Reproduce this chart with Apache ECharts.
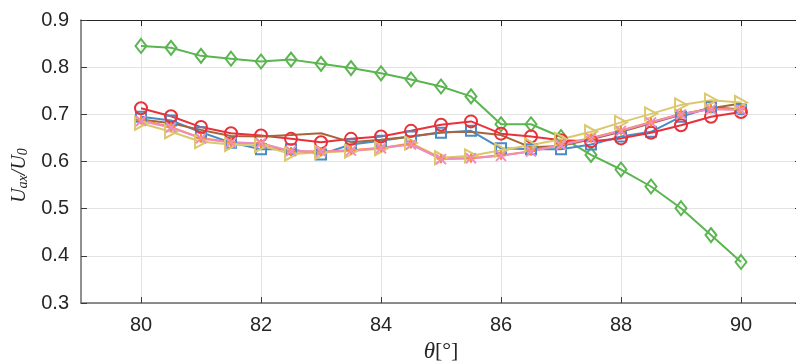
<!DOCTYPE html>
<html>
<head>
<meta charset="utf-8">
<script src="https://cdn.jsdelivr.net/npm/echarts@6/dist/echarts.min.js"></script>
<style>html,body{margin:0;padding:0;background:#fff}#c{width:796px;height:364px}</style>
</head>
<body>
<div id="c"></div>
<script>
const theta = [80,80.5,81,81.5,82,82.5,83,83.5,84,84.5,85,85.5,86,86.5,87,87.5,88,88.5,89,89.5,90];
const greenDiamond = [0.845,0.841,0.824,0.818,0.812,0.816,0.807,0.798,0.787,0.774,0.759,0.738,0.679,0.679,0.652,0.614,0.583,0.547,0.501,0.444,0.387];
const blueSquare = [0.695,0.687,0.662,0.640,0.626,0.626,0.615,0.636,0.644,0.653,0.661,0.665,0.628,0.626,0.626,0.636,0.653,0.663,0.695,0.715,0.711];
const redCircle = [0.713,0.696,0.673,0.660,0.655,0.648,0.641,0.648,0.653,0.665,0.678,0.685,0.659,0.653,0.645,0.643,0.649,0.661,0.677,0.695,0.705];
const brownLine = [0.689,0.681,0.667,0.654,0.653,0.656,0.660,0.641,0.646,0.653,0.662,0.663,0.656,0.630,0.633,0.647,0.663,0.681,0.699,0.713,0.723];
const yellowTriangle = [0.681,0.663,0.642,0.636,0.634,0.616,0.619,0.622,0.627,0.639,0.608,0.612,0.624,0.635,0.647,0.663,0.683,0.701,0.720,0.730,0.725];
const orangePlus = [0.688,0.673,0.650,0.641,0.638,0.621,0.621,0.624,0.629,0.637,0.606,0.607,0.613,0.622,0.636,0.650,0.666,0.684,0.701,0.712,0.710];
const pinkCross = [0.686,0.672,0.649,0.640,0.639,0.622,0.621,0.623,0.628,0.636,0.605,0.607,0.612,0.621,0.635,0.649,0.665,0.683,0.700,0.711,0.709];
const xTicks = [80,82,84,86,88,90];
const yTicks = [0.3,0.4,0.5,0.6,0.7,0.8,0.9];

const pair = arr => theta.map((t,i)=>[t,arr[i]]);
const SYM = {
  diamond: 'path://M0,-1L1,0L0,1L-1,0Z',
  square: 'path://M-1,-1L1,-1L1,1L-1,1Z',
  circle: 'path://M1,0A1,1 0 1,1 -1,0A1,1 0 1,1 1,0Z',
  triRight: 'path://M-1,-1L1,0L-1,1Z',
  cross: 'path://M-1,-1L1,1M1,-1L-1,1',
  plus: 'path://M0,-1L0,1M-1,0L1,0'
};
function mk(name, data, color, symbol, size, lw){
  return {
    name, type:'line', data: pair(data), symbol: symbol || 'none', symbolSize: size || 0,
    showSymbol: !!symbol, animation:false,
    lineStyle:{color, width: lw || 2},
    itemStyle:{color:'rgba(0,0,0,0)', borderColor:color, borderWidth:2},
    emphasis:{disabled:true}
  };
}
const chart = echarts.init(document.getElementById('c'), null, {renderer:'canvas'});
const labelFont = {color:'#262626', fontSize:20, fontFamily:'Liberation Sans, Arial, sans-serif'};
const serif = 'Liberation Serif, Times New Roman, serif';
chart.setOption({
  backgroundColor:'#fff',
  grid:{left:81, top:20, width:720, height:283, outerBoundsMode:'none', containLabel:false},
  xAxis:[{
    type:'value', min:79, max:91,
    axisLine:{show:true, onZero:false, lineStyle:{color:'#6b6b6b', width:1.5}},
    axisTick:{show:true, inside:true, length:6, customValues:xTicks, lineStyle:{color:'#3a3a3a'}},
    axisLabel:Object.assign({customValues:xTicks, margin:12}, labelFont),
    splitLine:{show:true, lineStyle:{color:'#e3e3e3', width:1}},
    name:'{t|θ}{b|[°]}', nameLocation:'middle', nameGap:37,
    nameTextStyle:{rich:{t:{fontFamily:serif, fontStyle:'italic', fontSize:23, color:'#262626'}, b:{fontFamily:serif, fontSize:22, color:'#262626'}}}
  },{
    type:'value', min:79, max:91, position:'top',
    axisLine:{show:true, onZero:false, lineStyle:{color:'#262626', width:1.2}},
    axisTick:{show:true, inside:true, length:6, customValues:xTicks, lineStyle:{color:'#262626'}},
    axisLabel:{show:false}, splitLine:{show:false}
  }],
  yAxis:[{
    type:'value', min:0.3, max:0.9, interval:0.1,
    axisLine:{show:true, onZero:false, lineStyle:{color:'#6b6b6b', width:1.5}},
    axisTick:{show:true, inside:true, length:6, lineStyle:{color:'#3a3a3a'}},
    axisLabel:Object.assign({margin:12, formatter:v=>v.toFixed(1)}, labelFont),
    splitLine:{show:true, lineStyle:{color:'#e3e3e3', width:1}},
    name:'{i|U}{s|ax}{i|/U}{s|0}', nameLocation:'middle', nameGap:47, nameRotate:90,
    nameTextStyle:{padding:[0,28,0,0], rich:{
      i:{fontFamily:serif, fontStyle:'italic', fontSize:20, color:'#262626', lineHeight:24},
      s:{fontFamily:serif, fontStyle:'italic', fontSize:14, color:'#262626', padding:[8,0,0,0], lineHeight:24}
    }}
  },{
    type:'value', min:0.3, max:0.9, interval:0.1, position:'right',
    axisLine:{show:true, onZero:false, lineStyle:{color:'#262626'}},
    axisTick:{show:true, inside:true, length:6, lineStyle:{color:'#262626'}},
    axisLabel:{show:false}, splitLine:{show:false}
  }],
  series:[
    mk('green', greenDiamond, '#5bb550', SYM.diamond, [11,14]),
    mk('blue', blueSquare, '#4a8bc6', SYM.square, 10),
    mk('red', redCircle, '#e8313a', SYM.circle, 12),
    mk('brown', brownLine, '#a8643c', null, 0),
    mk('yellow', yellowTriangle, '#dcc86c', SYM.triRight, [12,13]),
    mk('orange', orangePlus, '#f98c2a', SYM.plus, 9),
    mk('pink', pinkCross, '#f08cc4', SYM.cross, 10)
  ]
});
</script>
</body>
</html>
